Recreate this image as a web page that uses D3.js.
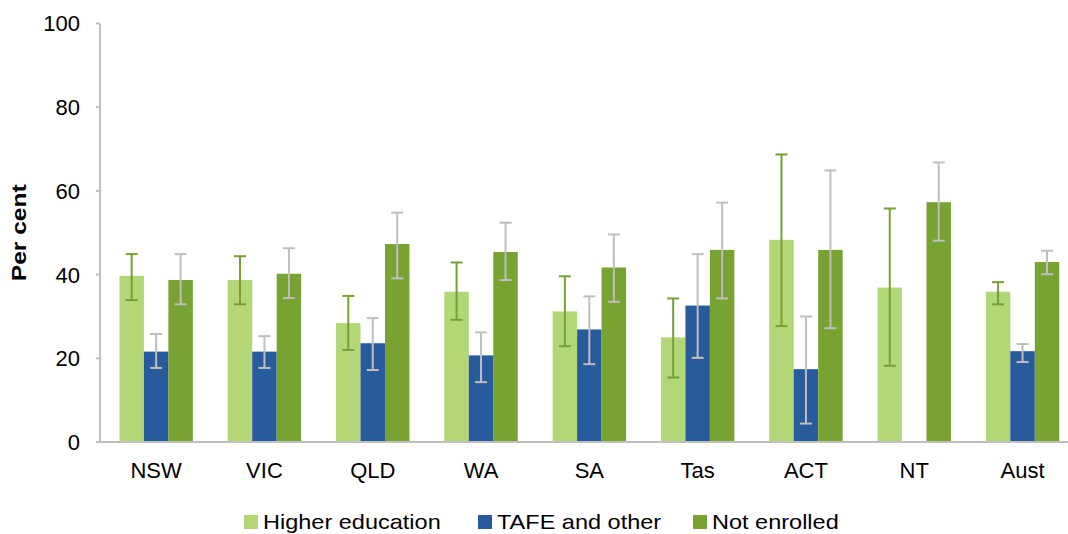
<!DOCTYPE html>
<html>
  <head>
    <style>
    body {
      font-family: "Liberation Sans", Arial, sans-serif;
      margin: 0;
      background: #fff;
    }
    </style>
  </head>
  <body>
    <script src="https://d3js.org/d3.v7.min.js"></script>
    <script>

// states / territories
var categories = ["NSW", "VIC", "QLD", "WA", "SA", "Tas", "ACT", "NT", "Aust"];
var seriesNames = ["Higher education", "TAFE and other", "Not enrolled"];

// bar values (per cent) and confidence interval ends
var higherEd   = [39.7, 38.7, 28.4, 35.9, 31.2, 25.0, 48.3, 36.9, 35.9];
var higherEdLo = [33.9, 32.9, 22.0, 29.2, 22.9, 15.4, 27.7, 18.2, 32.9];
var higherEdHi = [44.9, 44.4, 34.9, 42.9, 39.6, 34.3, 68.7, 55.8, 38.2];

var tafe   = [21.6, 21.6, 23.6, 20.7, 26.9, 32.6, 17.4, null, 21.7];
var tafeLo = [17.7, 17.7, 17.2, 14.3, 18.6, 20.1, 4.4, null, 19.1];
var tafeHi = [25.8, 25.3, 29.6, 26.2, 34.8, 44.9, 30.0, null, 23.4];

var notEnrolled   = [38.7, 40.2, 47.3, 45.4, 41.7, 45.9, 45.9, 57.3, 43.0];
var notEnrolledLo = [32.9, 34.4, 39.1, 38.7, 33.5, 34.3, 27.2, 48.1, 40.1];
var notEnrolledHi = [44.9, 46.3, 54.8, 52.4, 49.6, 57.2, 64.9, 66.8, 45.7];

var yTicks = [0, 20, 40, 60, 80, 100];

var barColors = ["#b3d677", "#275b9b", "#78a231"];
var errColors = ["#77a033", "#bfbfbf", "#bfbfbf"];

var width = 1068, height = 534;

var svg = d3.select("body").append("svg")
    .attr("width", width)
    .attr("height", height);

var y = d3.scaleLinear().domain([0, 100]).range([442, 23.5]);

var x = d3.scaleBand()
    .domain(categories)
    .range([102, 1076.7])
    .paddingInner(0.322)
    .paddingOuter(0.161);

var xs = d3.scaleBand()
    .domain(seriesNames)
    .range([0, x.bandwidth()]);

// build rows from the arrays
var vals = [higherEd, tafe, notEnrolled];
var los = [higherEdLo, tafeLo, notEnrolledLo];
var his = [higherEdHi, tafeHi, notEnrolledHi];
var rows = [];
categories.forEach(function(c, i){
  seriesNames.forEach(function(s, j){
    if (vals[j][i] == null) return;
    rows.push({cat: c, ser: s, idx: j, v: vals[j][i], lo: los[j][i], hi: his[j][i]});
  });
});

// y axis
svg.append("line")
    .attr("x1", 100).attr("x2", 100)
    .attr("y1", y(100)).attr("y2", y(0))
    .style("stroke", "#bfbfbf").style("stroke-width", 2);

svg.selectAll(".ytick")
    .data(yTicks)
  .enter().append("line")
    .attr("class", "ytick")
    .attr("x1", 96).attr("x2", 100)
    .attr("y1", function(d){ return y(d); })
    .attr("y2", function(d){ return y(d); })
    .style("stroke", "#bfbfbf").style("stroke-width", 2);

svg.selectAll(".ylab")
    .data(yTicks)
  .enter().append("text")
    .attr("class", "ylab")
    .attr("x", 80)
    .attr("y", function(d){ return y(d); })
    .attr("dy", "0.36em")
    .attr("text-anchor", "end")
    .style("font-size", "22px")
    .style("fill", "#000")
    .text(function(d){ return d; });

// text is a bit wider than Arial in the original, stretch along the run
svg.append("text")
    .attr("transform", "translate(26," + y(50) + ") rotate(-90) scale(1.17,1)")
    .attr("text-anchor", "middle")
    .style("font-size", "21px")
    .style("font-weight", "bold")
    .text("Per cent");

// bars
svg.selectAll(".bar")
    .data(rows)
  .enter().append("rect")
    .attr("class", "bar")
    .attr("x", function(d){ return x(d.cat) + xs(d.ser); })
    .attr("y", function(d){ return y(d.v); })
    .attr("width", xs.bandwidth())
    .attr("height", function(d){ return y(0) - y(d.v); })
    .style("fill", function(d){ return barColors[d.idx]; });

// x axis line
svg.append("line")
    .attr("x1", 99).attr("x2", width)
    .attr("y1", y(0)).attr("y2", y(0))
    .style("stroke", "#bfbfbf").style("stroke-width", 2);

// error bars
var eb = svg.selectAll(".err")
    .data(rows)
  .enter().append("g")
    .attr("class", "err")
    .style("stroke", function(d){ return errColors[d.idx]; })
    .style("stroke-width", 2);

eb.append("line")
    .attr("x1", function(d){ return x(d.cat) + xs(d.ser) + xs.bandwidth() / 2; })
    .attr("x2", function(d){ return x(d.cat) + xs(d.ser) + xs.bandwidth() / 2; })
    .attr("y1", function(d){ return y(d.lo); })
    .attr("y2", function(d){ return y(d.hi); });

["lo", "hi"].forEach(function(k){
  eb.append("line")
    .attr("x1", function(d){ return x(d.cat) + xs(d.ser) + xs.bandwidth() / 2 - 6; })
    .attr("x2", function(d){ return x(d.cat) + xs(d.ser) + xs.bandwidth() / 2 + 6; })
    .attr("y1", function(d){ return y(d[k]); })
    .attr("y2", function(d){ return y(d[k]); });
});

// category labels
svg.selectAll(".xlab")
    .data(categories)
  .enter().append("text")
    .attr("class", "xlab")
    .attr("x", function(d){ return x(d) + x.bandwidth() / 2; })
    .attr("y", 478)
    .attr("text-anchor", "middle")
    .style("font-size", "22px")
    .text(function(d){ return d; });

// legend
var legX = [244, 478, 693];
var leg = svg.selectAll(".leg")
    .data(seriesNames)
  .enter().append("g")
    .attr("class", "leg")
    .attr("transform", function(d, i){ return "translate(" + legX[i] + ",515)"; });

leg.append("rect")
    .attr("width", 14).attr("height", 14)
    .style("fill", function(d, i){ return barColors[i]; });

leg.append("text")
    .attr("transform", "translate(19,14) scale(1.12,1)")
    .style("font-size", "21px")
    .text(function(d){ return d; });

    </script>
  </body>
</html>
